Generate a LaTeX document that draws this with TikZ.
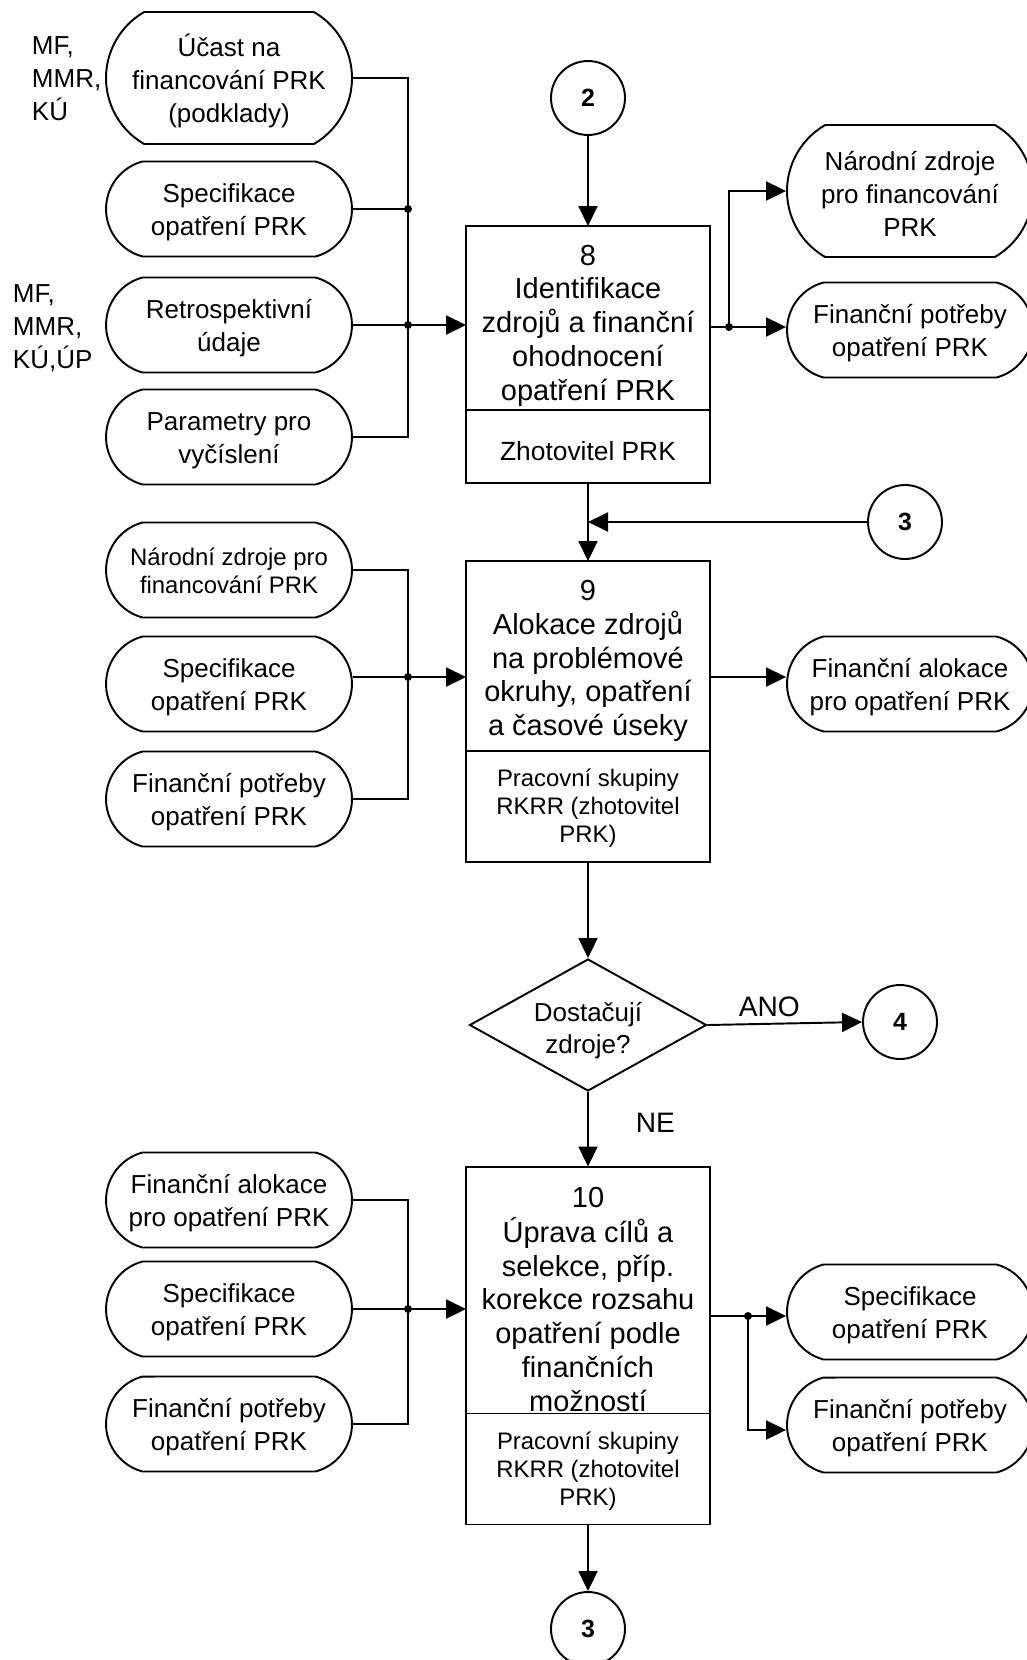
\documentclass[tikz,border=0pt]{standalone}
\usepackage{fontspec}
\setmainfont{Liberation Sans}
\usetikzlibrary{arrows.meta,positioning,shapes.misc,shapes.geometric}
% centred lines, lowered by #1 without changing the box size
\newcommand\lns[2][2pt]{\raisebox{-#1}[\height][\depth]{\begin{tabular}{@{}c@{}}#2\end{tabular}}}

\begin{document}
\begin{tikzpicture}[x=0.02cm,y=-0.02cm,line width=1.1pt,
  proc/.style={draw,rectangle,minimum width=4.88cm,inner sep=0pt,outer sep=0pt,font=\fontsize{16.5}{19.2}\selectfont},
  role/.style={draw,rectangle,minimum width=4.88cm,minimum height=2.22cm,inner sep=0pt,outer sep=0pt,font=\fontsize{13.6}{16}\selectfont},
  term/.style={draw,rounded rectangle,rounded rectangle arc length=150,minimum width=4.92cm,minimum height=1.9cm,inner sep=0pt,font=\fontsize{14.8}{18.8}\selectfont},
  conn/.style={draw,circle,minimum size=1.48cm,inner sep=0pt,font=\fontsize{14.2}{17}\selectfont\bfseries},
  dec/.style={draw,diamond,aspect=1.8,minimum width=4.74cm,minimum height=2.64cm,inner sep=0pt,font=\fontsize{14.8}{18.2}\selectfont},
  arr/.style={-{Triangle[length=0.4cm,width=0.38cm]}}]
\useasboundingbox (0,0) rectangle (1027,1660);

% main column
\node[conn] (c2) at (588,98) {2};
\node[proc,minimum height=3.68cm] (b8) at (588,318) {\lns[4.5pt]{8\\Identifikace\\zdrojů a finanční\\ohodnocení\\opatření PRK}};
\node[role,minimum height=1.46cm,font=\fontsize{15}{18}\selectfont,below=0pt of b8] (b8r) {\lns[4.5pt]{Zhotovitel PRK}};
\node[conn] (c3a) at (905,522) {3};
\node[proc,minimum height=3.8cm] (b9) at (588,656) {\lns[3pt]{9\\Alokace zdrojů\\na problémové\\okruhy, opatření\\a časové úseky}};
\node[role,below=0pt of b9] (b9r) {\lns[1.5pt]{Pracovní skupiny\\RKRR (zhotovitel\\PRK)}};
\node[dec] (d) at (588,1025) {\lns[3.5pt]{Dostačují\\zdroje?}};
\node[conn] (c4) at (900,1022) {4};
\node[proc,minimum height=4.94cm] (b10) at (588,1290) {\lns[7pt]{10\\Úprava cílů a\\selekce, příp.\\korekce rozsahu\\opatření podle\\finančních\\možností}};
\node[role,below=0pt of b10] (b10r) {\lns[1.5pt]{Pracovní skupiny\\RKRR (zhotovitel\\PRK)}};
\node[conn] (c3b) at (588,1629) {3};

% inputs and outputs
\node[term,minimum height=2.64cm,rounded rectangle arc length=120] (t1) at (229,78) {\lns[3pt]{Účast na\\financování PRK\\(podklady)}};
\node[term] (t2) at (229,209) {\lns{Specifikace\\opatření PRK}};
\node[term] (t3) at (229,325) {\lns{Retrospektivní\\údaje}};
\node[term] (t4) at (229,437) {\lns{Parametry pro\\vyčíslení}};
\node[term,font=\fontsize{13.6}{16}\selectfont] (t5) at (229,570) {\lns{Národní zdroje pro\\financování PRK}};
\node[term] (t6) at (229,684) {\lns{Specifikace\\opatření PRK}};
\node[term] (t7) at (229,799) {\lns{Finanční potřeby\\opatření PRK}};
\node[term] (t8) at (229,1200) {\lns{Finanční alokace\\pro opatření PRK}};
\node[term] (t9) at (229,1309) {\lns{Specifikace\\opatření PRK}};
\node[term] (t10) at (229,1424) {\lns{Finanční potřeby\\opatření PRK}};
\node[term,minimum height=2.64cm,rounded rectangle arc length=120] (r1) at (910,191) {\lns[3.5pt]{Národní zdroje\\pro financování\\PRK}};
\node[term] (r2) at (910,330) {\lns{Finanční potřeby\\opatření PRK}};
\node[term] (r3) at (910,684) {\lns{Finanční alokace\\pro opatření PRK}};
\node[term] (r4) at (910,1312) {\lns{Specifikace\\opatření PRK}};
\node[term] (r5) at (910,1425) {\lns{Finanční potřeby\\opatření PRK}};

\node[anchor=west,align=left,inner sep=0pt,font=\fontsize{14.8}{18.8}\selectfont] (src1) at (31,79) {MF,\\MMR,\\KÚ};
\node[anchor=west,align=left,inner sep=0pt,font=\fontsize{14.8}{18.8}\selectfont] (src2) at (12,328) {MF,\\MMR,\\KÚ,ÚP};

% step 8
\coordinate (j8) at (408,325);
\coordinate (k8) at (729,327);
\draw (t1.east) -| (j8) |- (t4.east);
\draw (t2.east) -- (t2.east -| j8);
\draw[arr] (t3.east) -- (t3.east -| b8.west);
\fill (t2.east -| j8) circle (0.08cm) (j8) circle (0.08cm);
\draw[arr] (c2.south) -- (b8.north);
\draw[arr] (b8.east |- k8) -- (k8) |- (r1.west);
\draw[arr] (k8) -- (k8 -| r2.west);
\fill (k8) circle (0.08cm);

% step 9
\coordinate (j9) at (408,677);
\draw[arr] (b8r.south) -- (b9.north);
\draw[arr] (c3a.west) -- (c3a.west -| b8r.south);
\draw (t5.east) -| (j9) |- (t7.east);
\draw (t6.east |- j9) -- (j9);
\draw[arr] (j9) -- (j9 -| b9.west);
\fill (j9) circle (0.08cm);
\draw[arr] (b9.east |- j9) -- (j9 -| r3.west);

% decision
\draw[arr] (b9r.south) -- (d.north);
\draw[arr] (d.east) -- (c4.west) node[pos=0.4,above=0pt,font=\fontsize{16}{19}\selectfont] (ano) {ANO};
\draw[arr] (d.south) -- (b10.north) node[pos=0.42,right=0.82cm,font=\fontsize{16}{19}\selectfont] (ne) {NE};

% step 10
\coordinate (j10) at (408,1309);
\coordinate (k10) at (748,1316);
\draw (t8.east) -| (j10) |- (t10.east);
\draw[arr] (t9.east) -- (t9.east -| b10.west);
\fill (j10) circle (0.08cm);
\draw[arr] (b10.east |- k10) -- (k10 -| r4.west);
\draw[arr] (k10) |- ([yshift=-0.1cm]r5.west);
\fill (k10) circle (0.08cm);
\draw[arr] (b10r.south) -- (c3b.north);
\end{tikzpicture}
\end{document}
